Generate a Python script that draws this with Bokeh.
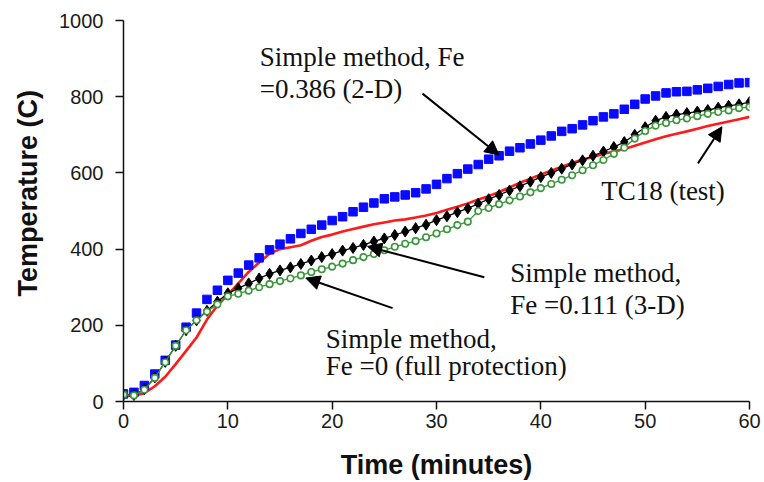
import math
from bokeh.plotting import figure
from bokeh.models import ColumnDataSource, Range1d, FixedTicker, Label, Arrow, NormalHead, Title
from bokeh.embed import file_html
from bokeh.resources import INLINE

# ---- data ----
minutes = list(range(61))

tc18_test = [15, 15, 22, 40, 65, 98, 133, 168, 215, 252,
             280, 310, 340, 365, 388, 400, 405, 410, 422, 432,
             438, 446, 453, 459, 465, 470, 475, 478, 483, 488,
             495, 503, 511, 520, 530, 539, 550, 562, 574, 585,
             596, 606, 616, 626, 635, 642, 650, 656, 663, 671,
             680, 688, 696, 703, 709, 716, 723, 729, 735, 741, 747]

fe_0386_2d = [20, 24, 42, 72, 108, 148, 195, 232, 268, 292,
              318, 337, 358, 377, 398, 413, 427, 441, 452, 463,
              475, 485, 498, 510, 521, 532, 537, 542, 548, 558,
              570, 585, 598, 610, 622, 636, 645, 657, 666, 676,
              686, 697, 709, 716, 726, 737, 747, 755, 767, 780,
              794, 802, 810, 813, 814, 818, 822, 827, 832, 836, 837]

fe_0111_3d = [18, 17, 32, 63, 104, 146, 187, 213, 238, 262,
              284, 297, 310, 323, 335, 344, 352, 361, 370, 379,
              387, 396, 403, 411, 420, 428, 437, 446, 455, 464,
              476, 486, 497, 507, 519, 531, 542, 554, 565, 577,
              589, 600, 611, 622, 633, 645, 656, 668, 681, 700,
              720, 737, 747, 753, 757, 761, 765, 771, 776, 780, 786]

fe_0_full = [18, 16, 31, 62, 103, 146, 187, 213, 236, 255,
             276, 283, 291, 300, 308, 316, 323, 331, 340, 347,
             354, 362, 371, 379, 387, 397, 406, 414, 421, 431,
             441, 452, 463, 472, 500, 508, 518, 528, 538, 549,
             560, 571, 582, 594, 607, 620, 634, 650, 666, 690,
             710, 724, 731, 738, 743, 749, 755, 760, 764, 770, 773]

x_ticks = [0, 10, 20, 30, 40, 50, 60]
y_ticks = [0, 200, 400, 600, 800, 1000]

src = ColumnDataSource(dict(t=minutes, red=tc18_test, blue=fe_0386_2d,
                            black=fe_0111_3d, green=fe_0_full))

p = figure(width=764, height=482, output_backend="svg", toolbar_location=None,
           x_range=Range1d(0, 60), y_range=Range1d(0, 1000),
           min_border_left=123, min_border_right=15, min_border_top=20,
           min_border_bottom=80)
p.outline_line_color = None
p.xgrid.visible = False
p.ygrid.visible = False
p.background_fill_color = "white"
p.border_fill_color = "white"

for ax, ticks in ((p.xaxis[0], x_ticks), (p.yaxis[0], y_ticks)):
    ax.ticker = FixedTicker(ticks=ticks)
    ax.minor_tick_line_color = None
    ax.major_tick_in = 0
    ax.major_tick_out = 8
    ax.axis_line_width = 1.5
    ax.major_tick_line_width = 1.5
    ax.axis_line_color = "#111111"
    ax.major_tick_line_color = "#111111"
    ax.major_label_text_font = "Liberation Sans"
    ax.major_label_text_font_size = "20px"
    ax.major_label_text_color = "#1a1a1a"
p.xaxis[0].major_label_standoff = 4
p.yaxis[0].major_label_standoff = 12

# x axis title
xa = p.xaxis[0]
xa.axis_label = "Time (minutes)"
xa.axis_label_text_font = "Liberation Sans"
xa.axis_label_text_font_style = "bold"
xa.axis_label_text_font_size = "27px"
xa.axis_label_text_color = "#111111"
xa.axis_label_standoff = 19

# y axis title (as a side title so it can be shifted along the axis)
p.add_layout(Title(text="Temperature (C)", align="left", offset=105,
                   standoff=24, vertical_align="top",
                   text_font="Liberation Sans",
                   text_font_style="bold", text_font_size="27px",
                   text_color="#111111"), "left")

# series
p.line("t", "red", source=src, line_color="#ff1a1a", line_width=2.6)
p.scatter("t", "blue", source=src, marker="square", size=8.5,
          fill_color="#0a0aff", line_color="#0a0aff")
p.line("t", "black", source=src, line_color="black", line_width=1.3)
p.scatter("t", "black", source=src, marker="diamond", size=11,
          fill_color="black", line_color="black")
p.line("t", "green", source=src, line_color="#3a963a", line_width=1.3)
p.scatter("t", "green", source=src, marker="circle", size=6.5,
          fill_color="white", line_color="#3a963a", line_width=1.6)

# annotations
def note(x, y, txt):
    p.add_layout(Label(x=x, y=y, text=txt, text_align="left",
                       text_baseline="alphabetic",
                       text_font="Liberation Serif", text_font_size="27px",
                       text_color="#111111"))

def arrow(x0, y0, x1, y1):
    p.add_layout(Arrow(x_start=x0, y_start=y0, x_end=x1, y_end=y1,
                       line_color="black", line_width=2,
                       end=NormalHead(size=14, fill_color="black",
                                      line_color="black")))

note(13.05, 903, "Simple method, Fe")
note(13.05, 821, "=0.386 (2-D)")
arrow(28.66, 808, 36.0, 647)

note(45.78, 552, "TC18 (test)")
arrow(55.06, 625, 57.36, 721)

note(37.07, 336, "Simple method,")
note(37.07, 254, "Fe =0.111 (3-D)")
arrow(34.58, 326, 23.39, 407)

note(19.39, 163, "Simple method,")
note(19.39, 93, "Fe =0 (full protection)")
arrow(25.79, 245, 17.47, 324)

open("out.html", "w").write(file_html(p, INLINE))
